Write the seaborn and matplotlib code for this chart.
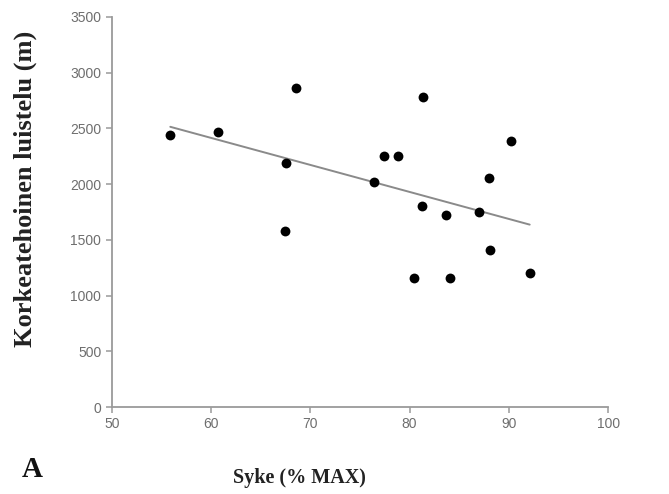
import matplotlib
matplotlib.use("Agg")
import matplotlib.pyplot as plt
import pandas as pd
import seaborn as sns

# values
syke = [55.9, 60.7, 68.6, 67.6, 67.5, 76.4, 77.4, 78.8, 81.4, 81.3,
        80.4, 83.7, 84.1, 87.0, 88.0, 88.1, 90.2, 92.1]
luistelu = [2440, 2470, 2860, 2185, 1575, 2015, 2255, 2255, 2785, 1800,
            1160, 1725, 1155, 1745, 2050, 1410, 2390, 1200]

x_ticks = [50, 60, 70, 80, 90, 100]
y_ticks = [0, 500, 1000, 1500, 2000, 2500, 3000, 3500]

df = pd.DataFrame({"syke": syke, "luistelu": luistelu})

sns.set_style("ticks")
fig, ax = plt.subplots(figsize=(6.69, 4.94), dpi=100)
fig.subplots_adjust(left=0.167, right=0.909, bottom=0.176, top=0.966)

sns.regplot(data=df, x="syke", y="luistelu", ax=ax, ci=None, color="black",
            scatter_kws=dict(s=50, alpha=1, linewidths=0, zorder=3),
            line_kws=dict(color="#8a8a8a", lw=1.4, zorder=2))

ax.set_xlim(50, 100)
ax.set_ylim(0, 3500)
ax.set_xticks(x_ticks)
ax.set_yticks(y_ticks)

axis_grey = "#9a9a9a"
sns.despine(ax=ax)
for s in ["left", "bottom"]:
    ax.spines[s].set_color(axis_grey)
    ax.spines[s].set_linewidth(1.3)
ax.tick_params(colors=axis_grey, length=4, width=1.1, labelcolor="#6e6e6e",
               labelsize=10)
for lab in ax.get_xticklabels() + ax.get_yticklabels():
    lab.set_family("Liberation Sans")

ax.set_xlabel("Syke (% MAX)", family="Liberation Serif", fontweight="bold",
              fontsize=14.5, color="#222222")
ax.set_ylabel("Korkeatehoinen luistelu (m)", family="Liberation Serif",
              fontweight="bold", fontsize=19, color="#222222")
ax.xaxis.set_label_coords(0.379, -0.155)
ax.yaxis.set_label_coords(-0.150, 0.56)

fig.text(0.033, 0.034, "A", family="Liberation Serif", fontweight="bold",
         fontsize=21, color="#111111")

fig.savefig("out.png", dpi=100)
